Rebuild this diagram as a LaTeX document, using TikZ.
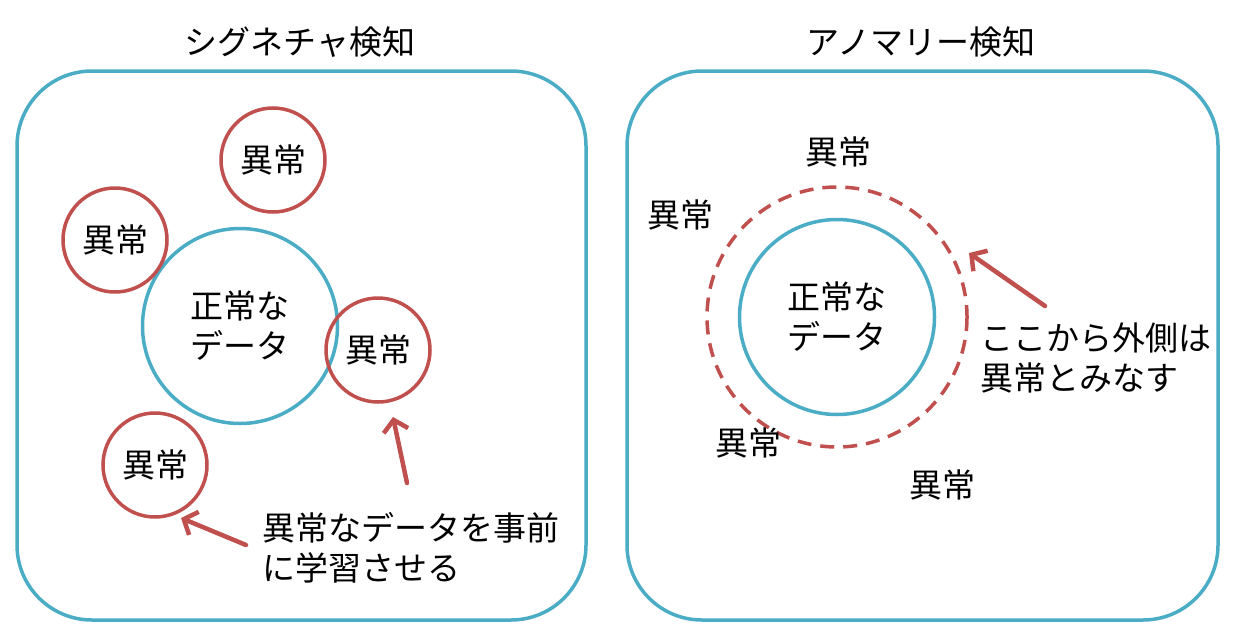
\documentclass[tikz,border=0pt]{standalone}
\usepackage{fontspec}
\setmainfont{Noto Sans CJK JP}
\usetikzlibrary{arrows.meta}
\definecolor{seijou}{HTML}{4BACC6}
\definecolor{ijou}{HTML}{C0504D}

\begin{document}
\begin{tikzpicture}[x = 1pt, y = -1pt,
    every node/.style = {font = \fontsize{33}{40}\selectfont, inner sep = 0pt},
    waku/.style = {draw = seijou, line width = 3.5pt, rounded corners = 75},
    seijoumaru/.style = {circle, draw = seijou, line width = 3.5pt, minimum size = 195pt, align = center},
    ijoumaru/.style = {circle, draw = ijou, line width = 3.5pt, minimum size = 104pt},
    yajirushi/.style = {draw = ijou, line width = 4.5pt, line cap = round, line join = round,
      -{Straight Barb[length = 11pt, width = 25pt]}}]
      \useasboundingbox (0, 0) rectangle (1238, 637);
      % left: signature
      \node (titleL) at (300, 42) {シグネチャ検知};
      \draw [waku] (17, 71) rectangle (586, 620);
      \node [seijoumaru] (seijouL) at (240, 326) {正常な\\データ};
      \foreach \name/\x/\y in {a/273/160, b/115/240, c/378/350, d/155/465}{
        \node [ijoumaru] (ijou\name) at (\x, \y) {異常};
      }
      \node [anchor = west, align = left] (gakushuu) at (262, 548) {異常なデータを事前\\に学習させる};
      \coordinate (yaAtail) at (407, 483);
      \coordinate (yaAtip) at (393, 417);
      \coordinate (yaBtail) at (246, 545);
      \coordinate (yaBtip) at (181, 518);
      \draw [yajirushi] (yaAtail) -- (yaAtip);
      \draw [yajirushi] (yaBtail) -- (yaBtip);
      % right: anomaly
      \node (titleR) at (921, 42) {アノマリー検知};
      \draw [waku] (627, 71) rectangle (1218, 620);
      \node [seijoumaru] (seijouR) at (837, 317) {正常な\\データ};
      \draw [ijou, line width = 3.5pt, dash pattern = on 14pt off 9pt] (seijouR.center) circle [radius = 130];
      \foreach \name/\x/\y in {a/838/152, b/680/215, c/748/443, d/942/485}{
        \node (ijouR\name) at (\x, \y) {異常};
      }
      \node [anchor = west, align = left] (minasu) at (980, 358) {ここから外側は\\異常とみなす};
      \coordinate (yaCtail) at (1045, 306);
      \coordinate (yaCtip) at (969, 253);
      \draw [yajirushi] (yaCtail) -- (yaCtip);
    \end{tikzpicture}
\end{document}
